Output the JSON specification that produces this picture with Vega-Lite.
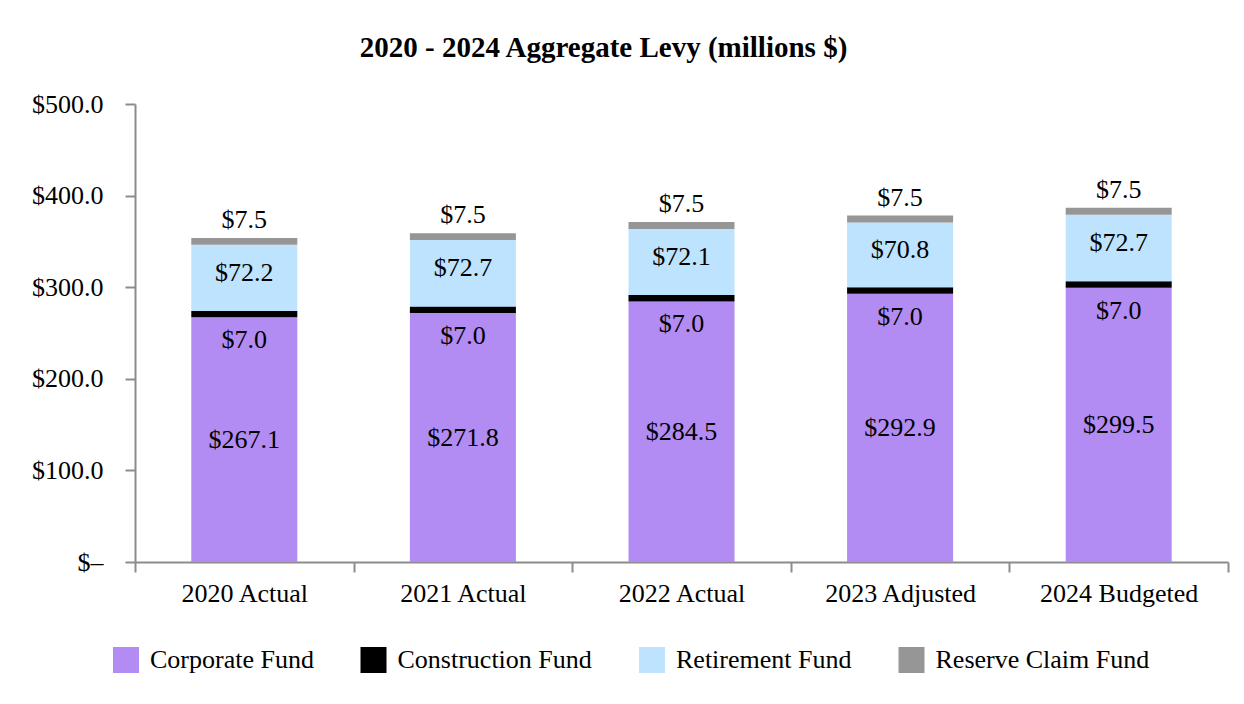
{
  "$schema": "https://vega.github.io/schema/vega-lite/v6.json",
  "width": 1093,
  "height": 458,
  "autosize": {"type": "none"},
  "padding": {"left": 135, "top": 104, "right": 16, "bottom": 142},
  "background": "white",
  "config": {"view": {"stroke": null}},
  "title": {
    "text": "2020 - 2024 Aggregate Levy (millions $)",
    "font": "Liberation Serif",
    "fontSize": 29,
    "fontWeight": "bold",
    "color": "black",
    "anchor": "middle",
    "dx": -78,
    "offset": -1,
    "baseline": "bottom"
  },
  "data": {
    "values": [
      {"year": "2020 Actual", "fund": "Corporate Fund", "value": 267.1, "order": 1},
      {"year": "2020 Actual", "fund": "Construction Fund", "value": 7.0, "order": 2},
      {"year": "2020 Actual", "fund": "Retirement Fund", "value": 72.2, "order": 3},
      {"year": "2020 Actual", "fund": "Reserve Claim Fund", "value": 7.5, "order": 4},
      {"year": "2021 Actual", "fund": "Corporate Fund", "value": 271.8, "order": 1},
      {"year": "2021 Actual", "fund": "Construction Fund", "value": 7.0, "order": 2},
      {"year": "2021 Actual", "fund": "Retirement Fund", "value": 72.7, "order": 3},
      {"year": "2021 Actual", "fund": "Reserve Claim Fund", "value": 7.5, "order": 4},
      {"year": "2022 Actual", "fund": "Corporate Fund", "value": 284.5, "order": 1},
      {"year": "2022 Actual", "fund": "Construction Fund", "value": 7.0, "order": 2},
      {"year": "2022 Actual", "fund": "Retirement Fund", "value": 72.1, "order": 3},
      {"year": "2022 Actual", "fund": "Reserve Claim Fund", "value": 7.5, "order": 4},
      {"year": "2023 Adjusted", "fund": "Corporate Fund", "value": 292.9, "order": 1},
      {"year": "2023 Adjusted", "fund": "Construction Fund", "value": 7.0, "order": 2},
      {"year": "2023 Adjusted", "fund": "Retirement Fund", "value": 70.8, "order": 3},
      {"year": "2023 Adjusted", "fund": "Reserve Claim Fund", "value": 7.5, "order": 4},
      {"year": "2024 Budgeted", "fund": "Corporate Fund", "value": 299.5, "order": 1},
      {"year": "2024 Budgeted", "fund": "Construction Fund", "value": 7.0, "order": 2},
      {"year": "2024 Budgeted", "fund": "Retirement Fund", "value": 72.7, "order": 3},
      {"year": "2024 Budgeted", "fund": "Reserve Claim Fund", "value": 7.5, "order": 4}
    ]
  },
  "transform": [
    {"stack": "value", "groupby": ["year"], "sort": [{"field": "order", "order": "ascending"}], "as": ["v0", "v1"]},
    {"calculate": "(datum.v0 + datum.v1) / 2", "as": "mid"}
  ],
  "encoding": {
    "x": {
      "field": "year",
      "type": "nominal",
      "sort": null,
      "scale": {"paddingInner": 0, "paddingOuter": 0},
      "axis": {
        "title": null,
        "labelAngle": 0,
        "tickBand": "extent",
        "domainColor": "#8c8c8c",
        "domainWidth": 2,
        "tickColor": "#8c8c8c",
        "tickWidth": 2,
        "tickSize": 10,
        "labelFont": "Liberation Serif",
        "labelFontSize": 26,
        "labelColor": "black",
        "labelPadding": 8
      }
    }
  },
  "layer": [
    {
      "mark": {"type": "bar", "width": {"band": 0.485}},
      "encoding": {
        "y": {
          "field": "v0",
          "type": "quantitative",
          "scale": {"domain": [0, 500]},
          "axis": {
            "title": null,
            "values": [0, 100, 200, 300, 400, 500],
            "labelExpr": "datum.value == 0 ? '$–' : '$' + format(datum.value, '.1f')",
            "grid": false,
            "domainColor": "#8c8c8c",
            "domainWidth": 2,
            "tickColor": "#8c8c8c",
            "tickWidth": 2,
            "tickSize": 10,
            "labelFont": "Liberation Serif",
            "labelFontSize": 26,
            "labelColor": "black",
            "labelPadding": 22
          }
        },
        "y2": {"field": "v1"},
        "color": {
          "field": "fund",
          "type": "nominal",
          "scale": {
            "domain": ["Corporate Fund", "Construction Fund", "Retirement Fund", "Reserve Claim Fund"],
            "range": ["#b28cf2", "#000000", "#bee3fe", "#969696"]
          },
          "legend": {
            "title": null,
            "orient": "none",
            "legendX": -22,
            "legendY": 543,
            "direction": "horizontal",
            "columns": 4,
            "padding": 0,
            "symbolType": "square",
            "symbolSize": 676,
            "symbolStrokeWidth": 0,
            "symbolOpacity": 1,
            "labelFont": "Liberation Serif",
            "labelFontSize": 26,
            "labelColor": "black",
            "labelOffset": 11,
            "columnPadding": 46.5,
            "labelLimit": 400
          }
        }
      }
    },
    {
      "transform": [{"filter": "datum.fund == 'Corporate Fund'"}],
      "mark": {"type": "text", "font": "Liberation Serif", "fontSize": 26, "color": "black", "baseline": "middle"},
      "encoding": {
        "y": {"field": "mid", "type": "quantitative"},
        "text": {"field": "value", "type": "quantitative", "format": "$.1f"}
      }
    },
    {
      "transform": [{"filter": "datum.fund == 'Retirement Fund'"}],
      "mark": {"type": "text", "font": "Liberation Serif", "fontSize": 26, "color": "black", "baseline": "middle", "dy": -5},
      "encoding": {
        "y": {"field": "mid", "type": "quantitative"},
        "text": {"field": "value", "type": "quantitative", "format": "$.1f"}
      }
    },
    {
      "transform": [{"filter": "datum.fund == 'Construction Fund'"}],
      "mark": {"type": "text", "font": "Liberation Serif", "fontSize": 26, "color": "black", "baseline": "middle", "dy": 23},
      "encoding": {
        "y": {"field": "v0", "type": "quantitative"},
        "text": {"field": "value", "type": "quantitative", "format": "$.1f"}
      }
    },
    {
      "transform": [{"filter": "datum.fund == 'Reserve Claim Fund'"}],
      "mark": {"type": "text", "font": "Liberation Serif", "fontSize": 26, "color": "black", "baseline": "middle", "dy": -18},
      "encoding": {
        "y": {"field": "v1", "type": "quantitative"},
        "text": {"field": "value", "type": "quantitative", "format": "$.1f"}
      }
    }
  ]
}
